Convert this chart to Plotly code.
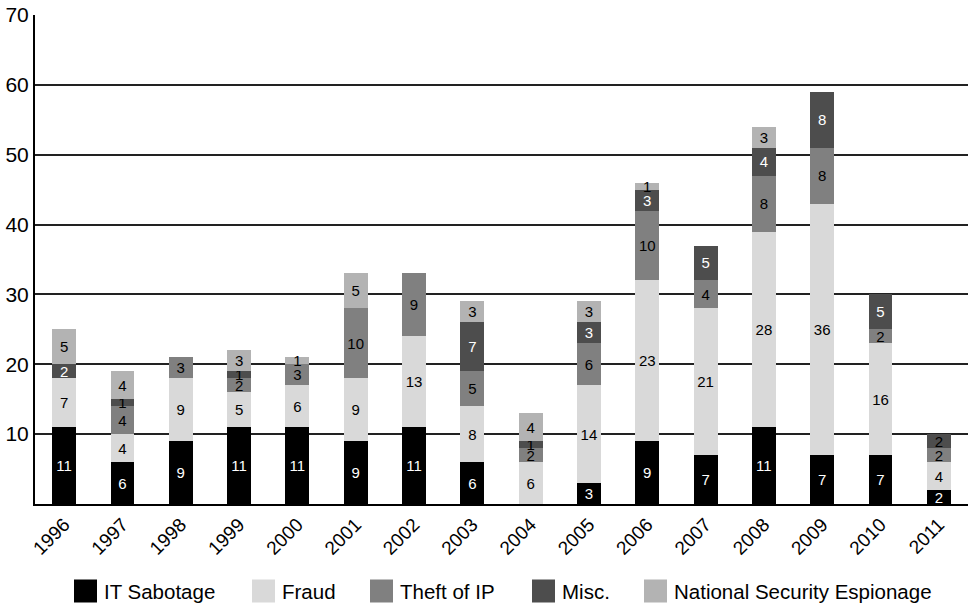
import plotly.graph_objects as go

years = ["1996", "1997", "1998", "1999", "2000", "2001", "2002", "2003",
         "2004", "2005", "2006", "2007", "2008", "2009", "2010", "2011"]

it_sabotage = [11, 6, 9, 11, 11, 9, 11, 6, 0, 3, 9, 7, 11, 7, 7, 2]
fraud       = [7, 4, 9, 5, 6, 9, 13, 8, 6, 14, 23, 21, 28, 36, 16, 4]
theft_ip    = [0, 4, 3, 2, 3, 10, 9, 5, 2, 6, 10, 4, 8, 8, 2, 2]
misc        = [2, 1, 0, 1, 0, 0, 0, 7, 1, 3, 3, 5, 4, 8, 5, 2]
nat_sec     = [5, 4, 0, 3, 1, 5, 0, 3, 4, 3, 1, 0, 3, 0, 0, 0]

series = [
    ("IT Sabotage", it_sabotage, "#000000", "white"),
    ("Fraud", fraud, "#d9d9d9", "black"),
    ("Theft of IP", theft_ip, "#808080", "black"),
    ("Misc.", misc, "#4d4d4d",
     ["white", "black", "white", "black", "white", "white", "white", "white",
      "black", "white", "white", "white", "white", "white", "white", "black"]),
    ("National Security Espionage", nat_sec, "#b3b3b3", "black"),
]

FONT = "Liberation Sans, Arial, Helvetica, sans-serif"

W, H = 968, 606
ML, MR, MT, MB = 35, 0, 15, 102
PW, PH = W - ML - MR, H - MT - MB

fig = go.Figure()
for name, vals, color, tcolor in series:
    fig.add_trace(go.Bar(
        name=name,
        x=years,
        y=vals,
        marker=dict(color=color, line=dict(width=0)),
        text=[str(v) if v > 0 else "" for v in vals],
        textposition="inside",
        insidetextanchor="middle",
        constraintext="none",
        textfont=dict(family=FONT, size=15, color=tcolor),
        textangle=0,
        hoverinfo="skip",
        showlegend=False,
    ))

# Legend row drawn as swatches + labels below the axis
legend_left_px = [74, 252, 370, 532, 644]
swatch = 23
legend_mid_px = 591


def px_to_paper_x(px):
    return (px - ML) / PW


def px_to_paper_y(py):
    return (H - MB - py) / PH


for (name, _vals, color, _t), lx in zip(series, legend_left_px):
    fig.add_shape(
        type="rect", xref="paper", yref="paper",
        x0=px_to_paper_x(lx), x1=px_to_paper_x(lx + swatch),
        y0=px_to_paper_y(legend_mid_px + swatch / 2),
        y1=px_to_paper_y(legend_mid_px - swatch / 2),
        fillcolor=color, line=dict(width=0),
    )
    fig.add_annotation(
        xref="paper", yref="paper",
        x=px_to_paper_x(lx + swatch + 5), y=px_to_paper_y(legend_mid_px),
        xanchor="left", yanchor="middle",
        text=name, showarrow=False,
        font=dict(family=FONT, size=20.5, color="black"),
    )

fig.update_layout(
    barmode="stack",
    bargap=0.59,
    width=W,
    height=H,
    margin=dict(l=ML, r=MR, t=MT, b=MB),
    paper_bgcolor="white",
    plot_bgcolor="white",
    font=dict(family=FONT, color="black"),
    showlegend=False,
)

fig.update_xaxes(
    type="category",
    tickangle=-45,
    tickfont=dict(family=FONT, size=19, color="black"),
    showline=True, linecolor="black", linewidth=2,
    showgrid=False,
    ticks="",
)
fig.update_yaxes(
    range=[0, 70],
    tickvals=[10, 20, 30, 40, 50, 60, 70],
    tickfont=dict(family=FONT, size=21, color="black"),
    showgrid=True, gridcolor="#222222", gridwidth=1.5,
    showline=True, linecolor="black", linewidth=2,
    zeroline=False,
    ticks="",
)

fig.write_html("out.html")
